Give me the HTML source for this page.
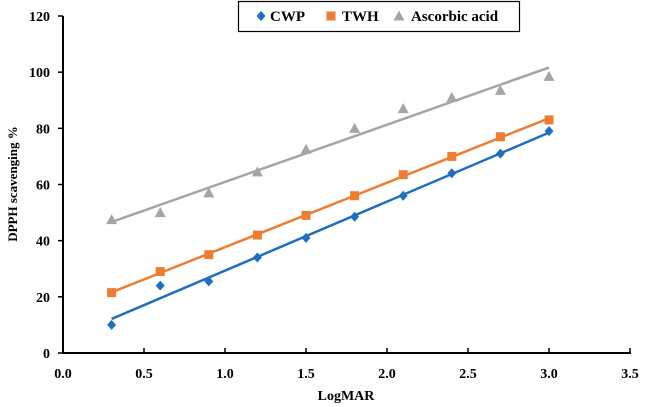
<!DOCTYPE html>
<html><head><meta charset="utf-8"><style>
body{margin:0;background:#fff}
svg{display:block;font-family:"Liberation Serif",serif}
</style></head><body>
<svg id="c" width="669" height="407"></svg>
<script>
const xs=[0.3,0.6,0.9,1.2,1.5,1.8,2.1,2.4,2.7,3.0];
const cwp=[10,24,25.5,34,41,48.5,56,64,71,79];
const twh=[21.5,29,35,42,49,56,63.5,70,77,83];
const asc=[47.5,50,57,64.5,72.5,80,87,91,93.5,98.5];
const xTicks=["0.0","0.5","1.0","1.5","2.0","2.5","3.0","3.5"];
const yTicks=["0","20","40","60","80","100","120"];
const NS="http://www.w3.org/2000/svg",svg=document.getElementById('c');
const X=v=>63+v*(630-63)/3.5, Y=v=>353-v*(353-16)/120;
function el(t,a,p){const e=document.createElementNS(NS,t);for(const k in a)e.setAttribute(k,a[k]);(p||svg).appendChild(e);return e;}
let ax=el('line',{x1:62,y1:353,x2:631,y2:353,stroke:'#000','stroke-width':2});

let ay=el('line',{x1:63,y1:16,x2:63,y2:354,stroke:'#000','stroke-width':2});

xTicks.forEach(t=>{const x=X(+t);el('line',{x1:x,y1:353,x2:x,y2:348,stroke:'#000','stroke-width':1.5});
 const tx=el('text',{x:x,y:378,'text-anchor':'middle','font-size':14,'font-weight':'bold'});tx.textContent=t;
 });
yTicks.forEach(t=>{const y=Y(+t);el('line',{x1:58,y1:y,x2:63,y2:y,stroke:'#000','stroke-width':1.5});
 const tx=el('text',{x:50,y:y+5,'text-anchor':'end','font-size':14,'font-weight':'bold'});tx.textContent=t;
 });
let xt=el('text',{x:346,y:400,'text-anchor':'middle','font-size':14,'font-weight':'bold'});xt.textContent='LogMAR';

let yt=el('text',{x:0,y:0,'text-anchor':'middle','font-size':13,'font-weight':'bold',transform:'translate(17,184) rotate(-90)'});yt.textContent='DPPH scavenging %';

function fit(v){const n=xs.length;let mx=0,my=0;xs.forEach((x,i)=>{mx+=x;my+=v[i]});mx/=n;my/=n;let a=0,b=0;xs.forEach((x,i)=>{a+=(x-mx)*(v[i]-my);b+=(x-mx)*(x-mx)});const s=a/b;return x=>my+s*(x-mx);}
function marker(x,y,c,k){if(k==='d')return el('path',{d:`M${x} ${y-5}L${x+4.5} ${y}L${x} ${y+5}L${x-4.5} ${y}Z`,fill:c});
 if(k==='s')return el('rect',{x:x-4.5,y:y-4.5,width:9,height:9,fill:c});
 return el('path',{d:`M${x} ${y-5.5}L${x+5.5} ${y+4.5}L${x-5.5} ${y+4.5}Z`,fill:c});}
[[asc,'#a5a5a5','t','ascorbic'],[twh,'#ed7d31','s','twh'],[cwp,'#1f6fbf','d','cwp']].forEach(([v,c,k,n])=>{
 const f=fit(v);const l=el('line',{x1:X(0.3),y1:Y(f(0.3)),x2:X(3.0),y2:Y(f(3.0)),stroke:c,'stroke-width':2.5});
 
 xs.forEach((x,i)=>{const m=marker(X(x),Y(v[i]),c,k);});});
const g=el('g',{});
el('rect',{x:238.5,y:1.5,width:281,height:30,fill:'#fff',stroke:'#000','stroke-width':1.2},g);
[[261,'#1f6fbf','d','CWP',270],[331,'#ed7d31','s','TWH',342],[399,'#a5a5a5','t','Ascorbic acid',411]].forEach(([mx,c,k,t,tx])=>{
 const m=marker(mx,16,c,k);g.appendChild(m);
 const e=el('text',{x:tx,y:21,'font-size':15,'font-weight':'bold'},g);e.textContent=t;
 });
</script>
</body></html>
